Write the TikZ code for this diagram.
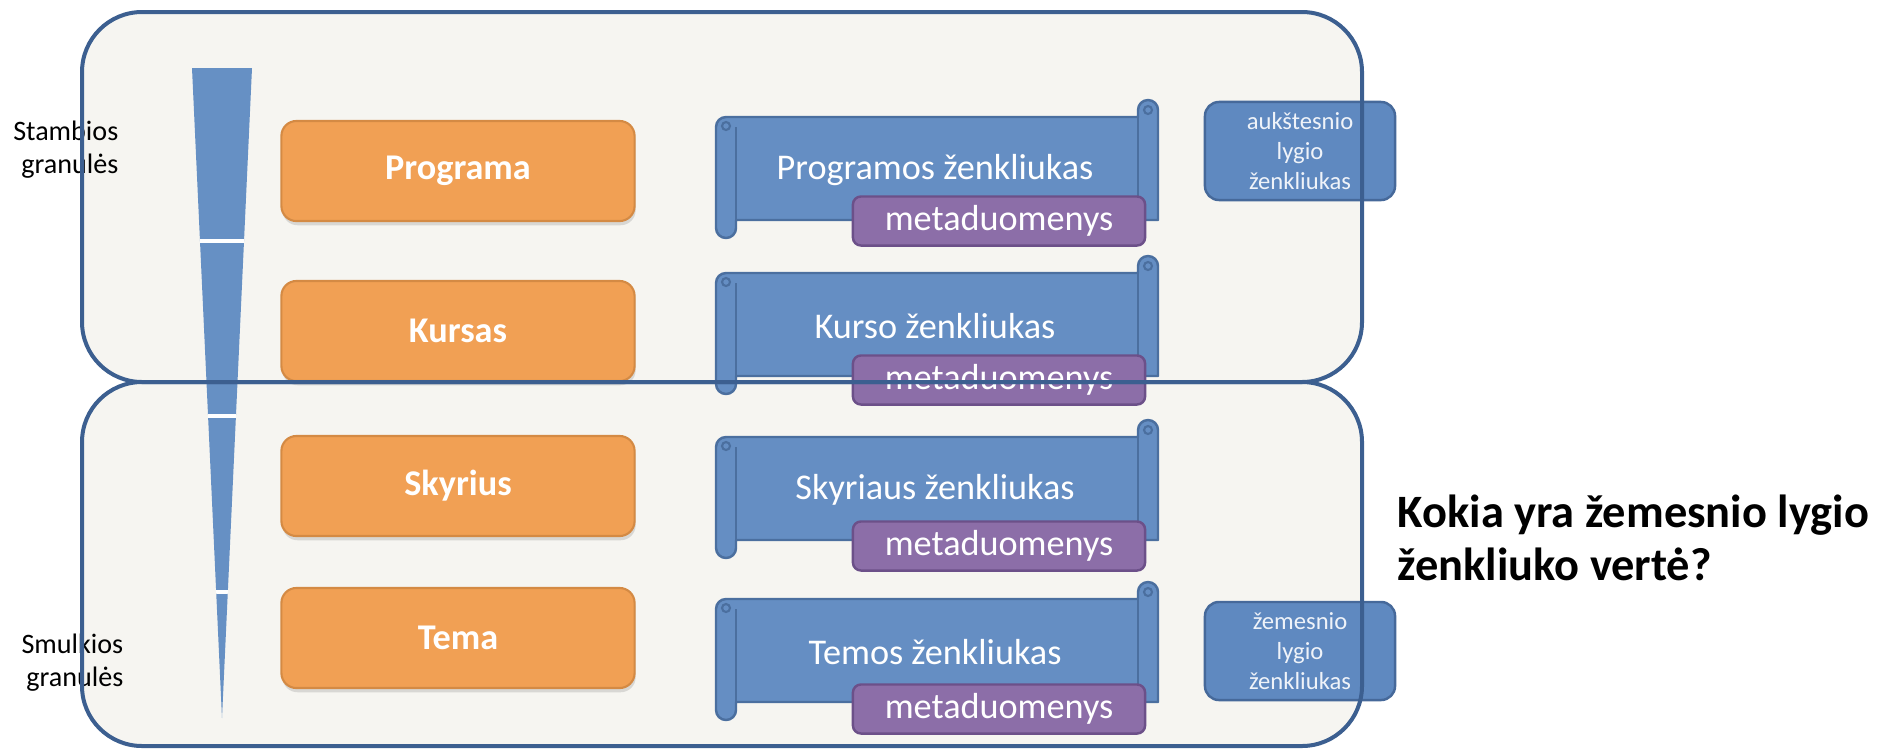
\documentclass[tikz,border=0pt]{standalone}
\usepackage{fontspec}
\setmainfont{Carlito}
\usepackage{xcolor}
\usepackage{tikz}
\usetikzlibrary{positioning, shadows}

\definecolor{framecol}{HTML}{3C5F90}
\definecolor{bgcol}{HTML}{F6F5F1}
\definecolor{funnelcol}{HTML}{6690C4}
\definecolor{orangecol}{HTML}{F1A054}
\definecolor{orangeedge}{HTML}{D48A44}
\definecolor{scrollcol}{HTML}{658EC3}
\definecolor{scrolledgecol}{HTML}{4B6F9F}
\definecolor{metacol}{HTML}{8C6EA8}
\definecolor{metaedge}{HTML}{6C5089}
\definecolor{badgecol}{HTML}{5F89C0}
\definecolor{badgeedge}{HTML}{46699A}

\begin{document}
\begin{tikzpicture}[x=0.01cm, y=-0.01cm,
	granule/.style={fill=orangecol, draw=orangeedge, line width=0.6pt, rounded corners=0.15cm,
		minimum width=3.53cm, minimum height=1.0cm, text=white, font=\fontsize{10.3}{12}\selectfont\bfseries,
		drop shadow={opacity=0.25, shadow xshift=0.3pt, shadow yshift=-1.2pt}},
	scroll/.style={fill=scrollcol, draw=scrolledgecol, line width=0.7pt, line join=round},
	scrolledge/.style={draw=scrolledgecol, line width=0.6pt},
	scrolltext/.style={text=white, font=\fontsize{10.3}{12}\selectfont},
	meta/.style={fill=metacol, draw=metaedge, line width=0.7pt, rounded corners=0.08cm,
		minimum width=2.92cm, minimum height=0.49cm, inner sep=0pt, text=white, font=\fontsize{10.3}{12}\selectfont},
	badge/.style={fill=badgecol, draw=badgeedge, line width=0.7pt, rounded corners=0.14cm,
		minimum width=1.9cm, minimum height=0.98cm, inner sep=0pt, align=center, text=white!90!badgecol,
		font=\fontsize{7}{8.5}\selectfont},
	sidelabel/.style={align=right, inner sep=0pt, font=\fontsize{8}{9.4}\selectfont},
	question/.style={align=left, inner sep=0pt, font=\fontsize{13.2}{15.2}\selectfont\bfseries},
	frame/.style={draw=framecol, line width=0.04cm, rounded corners=0.6cm}]
	
	\useasboundingbox (0,0) rectangle (1885,748);
	
	%//background of the two frames
	\fill[bgcol, rounded corners=0.6cm] (82,12) rectangle (1362,382);
	\fill[bgcol, rounded corners=0.6cm] (82,382) rectangle (1362,746);
	
	%//funnel from coarse to fine
	\fill[funnelcol] (192,68) -- (252,68) -- (222,718) -- cycle;
	\begin{scope}
		\clip (192,68) -- (252,68) -- (222,718) -- cycle;
		\foreach \g in {241, 416, 592}
		\draw[white, line width=0.04cm] (180,\g) -- (265,\g);
	\end{scope}
	
	\node[sidelabel, anchor=east] (stamb) at (119,150) {Stambios\\granulės};
	\node[sidelabel, anchor=east] (smulk) at (124,663) {Smulkios\\granulės};
	
	\foreach \n/\y/\txt in {prog/171/Programa, kurs/331/Kursas, skyr/486/Skyrius, tema/638/Tema}
	\node[granule] (\n) at (458,\y) {\txt};
	
	%//scrolls, \t is the top of the right roll
	\foreach \t/\txt/\n in {100/Programos ženkliukas/1, 256/Kurso ženkliukas/2, 420/Skyriaus ženkliukas/3, 582/Temos ženkliukas/4}
	{
		\draw[scroll] (716,\t+27) -- (716,\t+128) arc[start angle=180, end angle=0, radius=10]
		-- (736,\t+120) -- (1158,\t+120) -- (1158,\t+10) arc[start angle=0, end angle=-180, radius=10]
		-- (1138,\t+17) -- (726,\t+17) arc[start angle=-90, end angle=-180, radius=10] -- cycle;
		\draw[scrolledge] (736,\t+27) -- (736,\t+128);
		\draw[scrolledge] (1138,\t+17) -- (1138,\t+110);
		\draw[scrolledge] (726,\t+26) circle[radius=4];
		\draw[scrolledge] (1148,\t+10) circle[radius=4];
		\node[scrolltext] (zen\n) at (935,\t+70) {\txt};
	}
	
	\foreach \y/\n in {221/1, 380/2, 546/3, 709/4}
	\node[meta] (meta\n) at (999,\y) {metaduomenys};
	
	\node[badge] (aukst) at (1300,151) {aukštesnio\\lygio\\ženkliukas};
	\node[badge] (zem) at (1300,651) {žemesnio\\lygio\\ženkliukas};
	
	%//frames on top
	\draw[frame] (82,12) rectangle (1362,382);
	\draw[frame] (82,382) rectangle (1362,746);
	
	\node[question, anchor=west] (klaus) at (1397,538) {Kokia yra žemesnio lygio\\ženkliuko vertė?};
	
\end{tikzpicture}
\end{document}
